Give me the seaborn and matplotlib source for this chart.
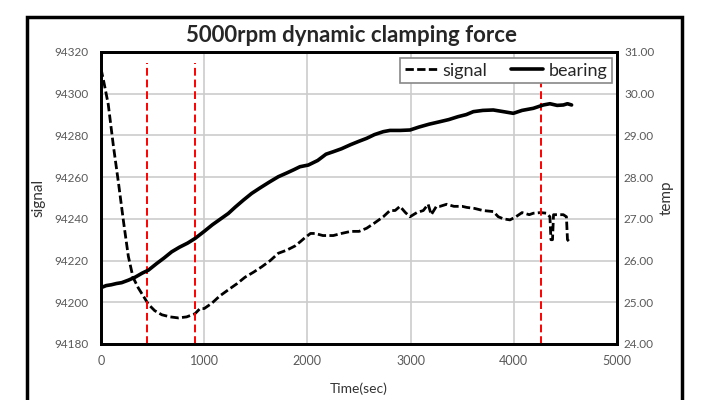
import matplotlib
matplotlib.use("Agg")
import matplotlib.pyplot as plt
import seaborn as sns
import pandas as pd
from matplotlib.patches import Rectangle
from matplotlib.ticker import FormatStrFormatter

# signal (left axis)
sig_time = [0, 30, 70, 120, 170, 220, 265, 310, 360, 410, 460, 520, 590, 670, 750, 830, 910, 960,
            1000, 1073, 1150, 1234, 1320, 1395, 1480, 1557, 1640, 1718, 1800, 1880, 1930, 1977, 2030,
            2074, 2150, 2251, 2330, 2420, 2500, 2574, 2650, 2735, 2800, 2850, 2897, 2950, 2994, 3060,
            3123, 3170, 3200, 3250, 3285, 3350, 3420, 3500, 3543, 3620, 3700, 3801, 3850, 3900, 3963,
            4020, 4080, 4150, 4189, 4260, 4318, 4350, 4360, 4375, 4385, 4420, 4480, 4510, 4520, 4540]
sig_vals = [94312, 94305, 94295, 94275, 94257, 94238, 94222, 94212, 94207, 94203, 94199, 94196,
            94194, 94193, 94192.5, 94193, 94194.5, 94197, 94197, 94199.5, 94203, 94206, 94209, 94212,
            94214.5, 94217, 94220, 94223.5, 94225, 94227, 94229, 94231, 94233, 94233, 94232, 94232,
            94233, 94234, 94234, 94235.5, 94238, 94241, 94244, 94244, 94246, 94243, 94241, 94243,
            94244, 94247, 94242, 94246, 94246, 94247, 94246, 94246, 94245.5, 94245, 94244, 94243.5,
            94241, 94240, 94239.5, 94241, 94243, 94242, 94242.7, 94243, 94242.7, 94241, 94230, 94230,
            94242, 94242, 94242, 94241, 94230, 94229]

# bearing temperature (right axis)
brg_time = [0, 50, 100, 150, 200, 265, 330, 400, 459, 540, 610, 685, 760, 840, 911, 1000,
            1080, 1160, 1234, 1300, 1380, 1460, 1540, 1630, 1718, 1800, 1870, 1928, 2009, 2100, 2180,
            2251, 2330, 2420, 2500, 2574, 2650, 2735, 2800, 2900, 2994, 3080, 3180, 3285, 3370, 3460,
            3540, 3608, 3700, 3801, 3900, 3995, 4080, 4189, 4286, 4350, 4420, 4480, 4520, 4560]
brg_vals = [25.35, 25.40, 25.42, 25.45, 25.47, 25.53, 25.6, 25.7, 25.77, 25.93, 26.06,
            26.21, 26.32, 26.42, 26.53, 26.7, 26.86, 27.0, 27.13, 27.28, 27.45, 27.61, 27.74, 27.88,
            28.01, 28.1, 28.18, 28.25, 28.29, 28.4, 28.55, 28.61, 28.68, 28.78, 28.86, 28.93, 29.02,
            29.09, 29.12, 29.12, 29.13, 29.2, 29.27, 29.33, 29.38, 29.45, 29.5, 29.57, 29.6, 29.61,
            29.57, 29.53, 29.6, 29.65, 29.73, 29.76, 29.72, 29.73, 29.76, 29.73]

# red dashed markers (sec)
marks = [450, 910, 4265]

sig_df = pd.DataFrame({"t": sig_time, "signal": sig_vals})
brg_df = pd.DataFrame({"t": brg_time, "bearing": brg_vals})

sns.set_style("white")
plt.rcParams["font.family"] = ["Lato", "DejaVu Sans"]
tick_col = "#595959"

fig = plt.figure(figsize=(7.02, 4.0), dpi=100)
ax = fig.add_axes([101 / 702, 1 - 344 / 400, 516 / 702, 292 / 400])
ax2 = ax.twinx()

sns.lineplot(data=sig_df, x="t", y="signal", ax=ax, color="black", lw=2.0, label="signal", legend=False)
ax.lines[0].set_dashes([3, 1.2])
sns.lineplot(data=brg_df, x="t", y="bearing", ax=ax2, color="black", lw=2.6, label="bearing", legend=False)

for m in marks:
    ax.axvline(m, ymax=0.962, color="red", lw=1.4, ls=(0, (4, 2)), zorder=3)

ax.set_xlim(0, 5000)
ax.set_ylim(94180, 94320)
ax2.set_ylim(24, 31)
ax.set_xticks(range(0, 5001, 1000))
ax.set_yticks(range(94180, 94321, 20))
ax2.set_yticks(range(24, 32))
ax.ticklabel_format(axis="y", useOffset=False, style="plain")
ax2.yaxis.set_major_formatter(FormatStrFormatter("%.2f"))

ax.grid(True, color="#cccccc", lw=1.2)
ax.set_axisbelow(True)
for a in (ax, ax2):
    for s in a.spines.values():
        s.set_color("black")
        s.set_linewidth(2)
ax.tick_params(axis="x", length=3, color="#999999", labelsize=9, labelcolor=tick_col, pad=5)
ax.tick_params(axis="y", length=0, labelsize=8.5, labelcolor=tick_col, pad=9)
ax2.tick_params(axis="y", length=0, labelsize=8.5, labelcolor=tick_col, pad=5)

ax.set_xlabel("Time(sec)", fontsize=10, color="#333333", labelpad=11)
ax.set_ylabel("signal", fontsize=11, color="#333333")
ax2.set_ylabel("temp", fontsize=11, color="#333333", labelpad=4)
ax.yaxis.set_label_coords(-0.108, 0.5)

fig.text(352 / 702, 1 - 36 / 400, "5000rpm dynamic clamping force", ha="center", va="center",
         fontsize=16, fontweight="bold")

h1, l1 = ax.get_legend_handles_labels()
h2, l2 = ax2.get_legend_handles_labels()
leg = ax2.legend(h1 + h2, l1 + l2, loc="upper right", bbox_to_anchor=(0.994, 0.985), ncol=2,
                 fontsize=13, frameon=True, fancybox=False, framealpha=1, edgecolor="#888888",
                 handlelength=1.8, handletextpad=0.3, columnspacing=1.3, borderpad=0.25,
                 borderaxespad=0.1)
leg.get_frame().set_linewidth(1.2)

fig.patches.append(Rectangle((27 / 702, -0.05), 655 / 702, (400 - 17) / 400 + 0.05,
                             transform=fig.transFigure, fill=False, ec="black", lw=2.5))

fig.savefig("out.png", dpi=100)
